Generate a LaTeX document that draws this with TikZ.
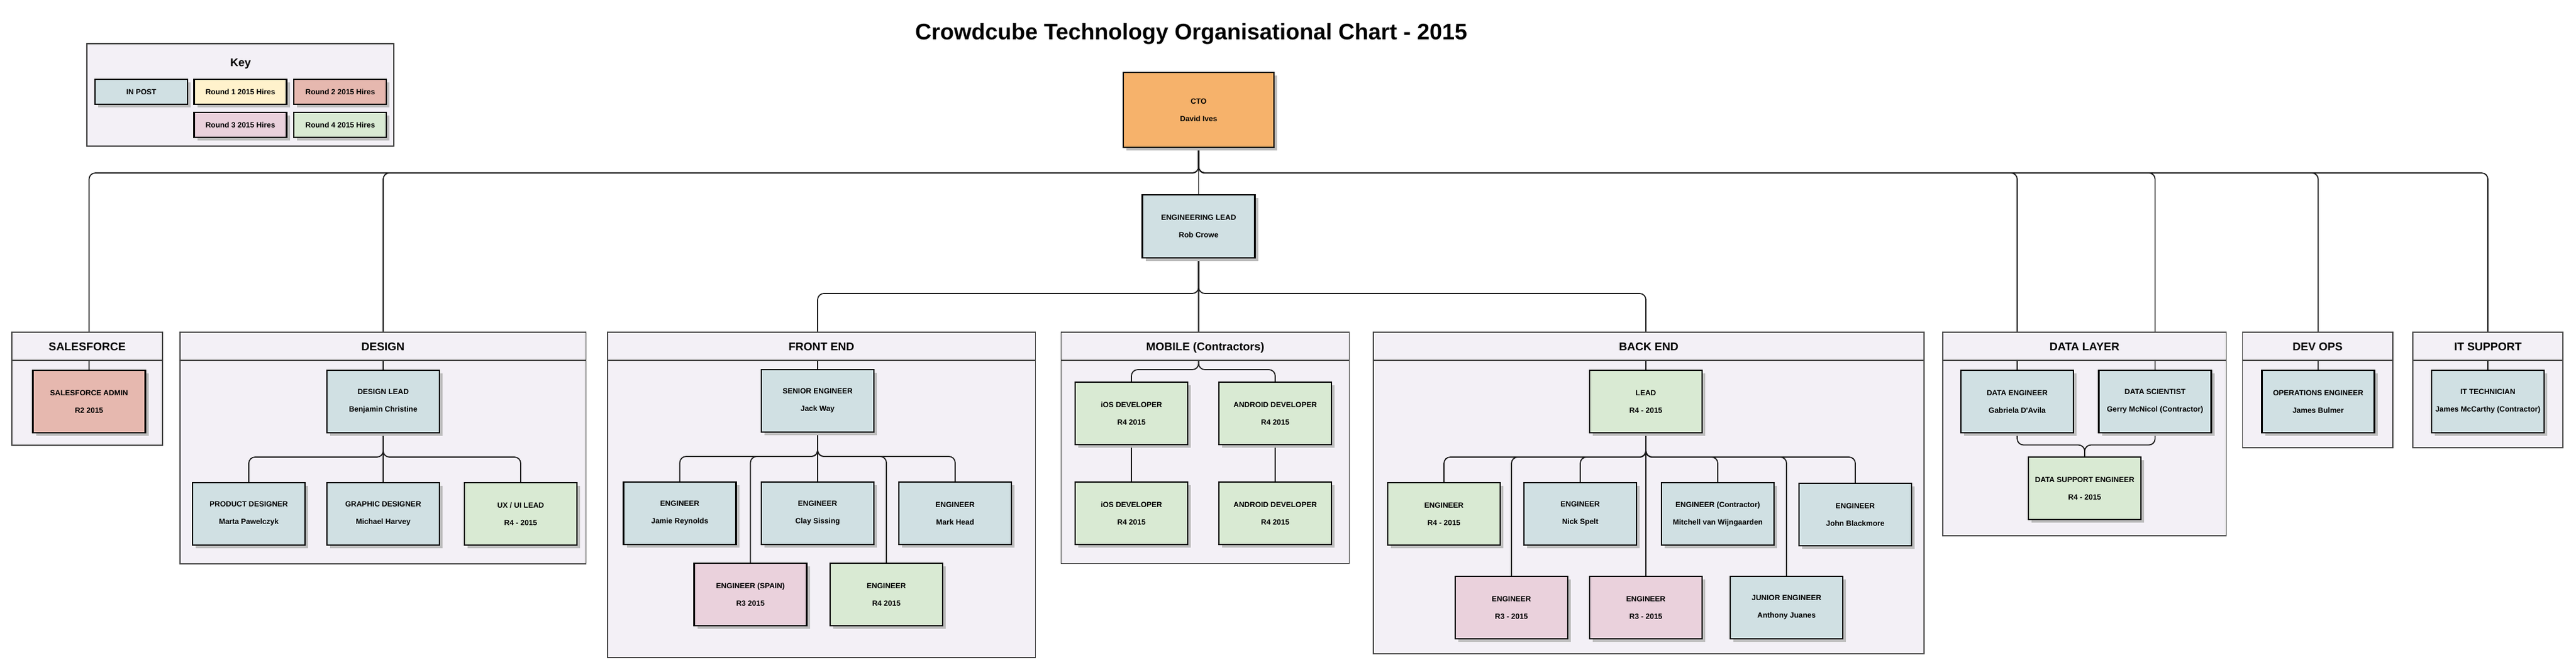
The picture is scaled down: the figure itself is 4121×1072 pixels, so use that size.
\documentclass[tikz,border=0pt]{standalone}
\usepackage{fontspec}
\setmainfont{Liberation Sans}
\usetikzlibrary{shadows,calc}
\pgfdeclarelayer{bg}
\pgfdeclarelayer{conn}
\pgfsetlayers{bg,conn,main}
\definecolor{cinpost}{HTML}{D0E0E3}
\definecolor{cfirst}{HTML}{FFF2CC}
\definecolor{csecond}{HTML}{E6B8AF}
\definecolor{cthird}{HTML}{EAD1DC}
\definecolor{cfourth}{HTML}{D9EAD3}
\definecolor{ccto}{HTML}{F6B26B}
\definecolor{clav}{HTML}{F3F0F6}
\definecolor{cborder}{HTML}{444444}
\definecolor{cshadow}{HTML}{BDBDBD}
\newcommand\nodefont{\fontsize{6}{14}\selectfont\bfseries}
\tikzset{
  person/.style={draw=black, line width=1.2pt, minimum width=90pt, minimum height=50pt,
    inner sep=0pt, align=center, font=\nodefont,
    general shadow={fill=cshadow, shadow xshift=2.5pt, shadow yshift=-2.5pt}},
  inpost/.style={person, fill=cinpost},
  rone/.style={person, fill=cfirst},
  rtwo/.style={person, fill=csecond},
  rthree/.style={person, fill=cthird},
  rfour/.style={person, fill=cfourth},
  keyitem/.style={draw=black, line width=1.1pt, minimum width=74pt, minimum height=20pt,
    inner sep=0pt, font=\fontsize{6}{7}\selectfont\bfseries,
    general shadow={fill=cshadow, shadow xshift=2.5pt, shadow yshift=-2.5pt}},
  contbody/.style={fill=clav, draw=cborder, line width=0.75pt},
  conthead/.style={fill=clav, draw=cborder, line width=0.75pt},
  depttitle/.style={anchor=base, inner sep=0pt, font=\fontsize{9}{11}\selectfont\bfseries},
  conn/.style={draw=black!90, line width=0.85pt, rounded corners=5pt},
}
\begin{document}
\begin{tikzpicture}[x=0.5pt,y=-0.5pt]
\begin{pgfonlayer}{bg}
\fill[white] (0,0) rectangle (4121,1072);
\path[contbody, draw=black!80] (139,70) rectangle (630,234);
\path[contbody] (19,532) rectangle (260,713);
\path[contbody] (288,532) rectangle (937.5,903);
\path[contbody] (972,532) rectangle (1656.5,1053);
\path[contbody] (1697.7,532) rectangle (2158.4,902.6);
\path[contbody] (2197,532) rectangle (3078,1047);
\path[contbody] (3108,532) rectangle (3561.4,858);
\path[contbody] (3587.7,532) rectangle (3827.7,717);
\path[contbody] (3860,532) rectangle (4100,717);
\end{pgfonlayer}
\useasboundingbox (0,0) rectangle (4121,1072);

% title
\node[anchor=base, inner sep=0pt, font=\fontsize{18}{22}\selectfont\bfseries] (title) at (1906,63)
  {Crowdcube Technology Organisational Chart - 2015};

% key
\node[anchor=base, inner sep=0pt, font=\fontsize{9}{11}\selectfont\bfseries] (keytitle) at (385,106) {Key};
\node[keyitem, fill=cinpost] (kin) at (226,147) {IN POST};
\node[keyitem, fill=cfirst] (kone) at (384.5,147) {Round 1 2015 Hires};
\node[keyitem, fill=csecond] (ktwo) at (544.3,147) {Round 2 2015 Hires};
\node[keyitem, fill=cthird] (kthree) at (384.5,200.3) {Round 3 2015 Hires};
\node[keyitem, fill=cfourth] (kfour) at (544.3,200.3) {Round 4 2015 Hires};

% department headers
\path[conthead] (19,532) rectangle (260,577);
\path[conthead] (288,532) rectangle (937.5,577);
\path[conthead] (972,532) rectangle (1656.5,577);
\path[conthead] (1697.7,532) rectangle (2158.4,577);
\path[conthead] (2197,532) rectangle (3078,577);
\path[conthead] (3108,532) rectangle (3561.4,577);
\path[conthead] (3587.7,532) rectangle (3827.7,577);
\path[conthead] (3860,532) rectangle (4100,577);
\node[depttitle] (hsales) at (139.5,561) {SALESFORCE};
\node[depttitle] (hdesign) at (612.7,561) {DESIGN};
\node[depttitle] (hfront) at (1314.2,561) {FRONT END};
\node[depttitle] (hmobile) at (1928,561) {MOBILE (Contractors)};
\node[depttitle] (hback) at (2637.5,561) {BACK END};
\node[depttitle] (hdata) at (3334.7,561) {DATA LAYER};
\node[depttitle] (hdevops) at (3707.7,561) {DEV OPS};
\node[depttitle] (hit) at (3980,561) {IT SUPPORT};

% top
\node[person, fill=ccto, minimum width=120.5pt, minimum height=60pt] (cto) at (1917.5,176) {CTO\\David Ives};
\node[inpost, minimum height=50.5pt] (englead) at (1917.5,362.5) {ENGINEERING LEAD\\Rob Crowe};

% salesforce
\node[rtwo] (sfadmin) at (142.5,643) {SALESFORCE ADMIN\\R2 2015};

% design
\node[inpost] (dlead) at (613,643) {DESIGN LEAD\\Benjamin Christine};
\node[inpost] (prod) at (398,823) {PRODUCT DESIGNER\\Marta Pawelczyk};
\node[inpost] (graph) at (613,823) {GRAPHIC DESIGNER\\Michael Harvey};
\node[rfour] (ux) at (833,823) {UX / UI LEAD\\R4 - 2015};

% front end
\node[inpost] (senior) at (1308,642) {SENIOR ENGINEER\\Jack Way};
\node[inpost] (jamie) at (1087.5,822) {ENGINEER\\Jamie Reynolds};
\node[inpost] (clay) at (1308,822) {ENGINEER\\Clay Sissing};
\node[inpost] (mark) at (1528,822) {ENGINEER\\Mark Head};
\node[rthree] (spain) at (1200.5,952) {ENGINEER (SPAIN)\\R3 2015};
\node[rfour] (fefour) at (1418,952) {ENGINEER\\R4 2015};

% mobile
\node[rfour] (iosa) at (1810,662) {iOS DEVELOPER\\R4 2015};
\node[rfour] (anda) at (2040,662) {ANDROID DEVELOPER\\R4 2015};
\node[rfour] (iosb) at (1810,822) {iOS DEVELOPER\\R4 2015};
\node[rfour] (andb) at (2040,822) {ANDROID DEVELOPER\\R4 2015};

% back end
\node[rfour] (belead) at (2633,643) {LEAD\\R4 - 2015};
\node[rfour] (bea) at (2310,823) {ENGINEER\\R4 - 2015};
\node[inpost] (beb) at (2528,823) {ENGINEER\\Nick Spelt};
\node[inpost] (bec) at (2748,823) {ENGINEER (Contractor)\\Mitchell van Wijngaarden};
\node[inpost] (bed) at (2968,824) {ENGINEER\\John Blackmore};
\node[rthree] (bee) at (2418,973) {ENGINEER\\R3 - 2015};
\node[rthree] (bef) at (2633,973) {ENGINEER\\R3 - 2015};
\node[inpost] (beg) at (2858,973) {JUNIOR ENGINEER\\Anthony Juanes};

% data layer
\node[inpost] (dataeng) at (3227,643) {DATA ENGINEER\\Gabriela D\textquotesingle Avila};
\node[inpost] (datasci) at (3447.6,643) {DATA SCIENTIST\\Gerry McNicol (Contractor)};
\node[rfour] (datasup) at (3335,782) {DATA SUPPORT ENGINEER\\R4 - 2015};

% dev ops, it
\node[inpost] (ops) at (3708.5,643) {OPERATIONS ENGINEER\\James Bulmer};
\node[inpost] (ittech) at (3980,643) {IT TECHNICIAN\\James McCarthy (Contractor)};

\coordinate (bustop) at (1917.5,277);
\coordinate (buseng) at (1917.5,470);
\coordinate (mobsplit) at (1917.5,592);
\coordinate (dsplit) at (613,732);
\coordinate (fsplit) at (1308,731);
\coordinate (bsplit) at (2633,732);
\coordinate (dlsplit) at (3335,712.6);

\begin{pgfonlayer}{conn}
\draw[conn] (cto.south) -- (bustop) -| (sfadmin.north);
\draw[conn] (cto.south) -- (bustop) -| (dlead.north);
\draw[conn] (cto.south) -- (englead.north);
\draw[conn] (cto.south) -- (bustop) -| (dataeng.north);
\draw[conn] (cto.south) -- (bustop) -| (datasci.north);
\draw[conn] (cto.south) -- (bustop) -| (ops.north);
\draw[conn] (cto.south) -- (bustop) -| (ittech.north);

\draw[conn] (englead.south) -- (buseng) -| (senior.north);
\draw[conn] (englead.south) -- (buseng) -| (belead.north);
\draw[conn] (englead.south) -- (mobsplit) -| (iosa.north);
\draw[conn] (englead.south) -- (mobsplit) -| (anda.north);
\draw[conn] (iosa.south) -- (iosb.north);
\draw[conn] (anda.south) -- (andb.north);

\draw[conn] (dlead.south) -- (dsplit) -| (prod.north);
\draw[conn] (dlead.south) -- (graph.north);
\draw[conn] (dlead.south) -- (dsplit) -| (ux.north);

\draw[conn] (senior.south) -- (fsplit) -| (jamie.north);
\draw[conn] (senior.south) -- (clay.north);
\draw[conn] (senior.south) -- (fsplit) -| (mark.north);
\draw[conn] (senior.south) -- (fsplit) -| (spain.north);
\draw[conn] (senior.south) -- (fsplit) -| (fefour.north);

\draw[conn] (belead.south) -- (bsplit) -| (bea.north);
\draw[conn] (belead.south) -- (bsplit) -| (beb.north);
\draw[conn] (belead.south) -- (bsplit) -| (bec.north);
\draw[conn] (belead.south) -- (bsplit) -| (bed.north);
\draw[conn] (belead.south) -- (bsplit) -| (bee.north);
\draw[conn] (belead.south) -- (bef.north);
\draw[conn] (belead.south) -- (bsplit) -| (beg.north);

\draw[conn] (dataeng.south) |- (dlsplit) -- (datasup.north);
\draw[conn] (datasci.south) |- (dlsplit) -- (datasup.north);
\end{pgfonlayer}
\end{tikzpicture}
\end{document}
